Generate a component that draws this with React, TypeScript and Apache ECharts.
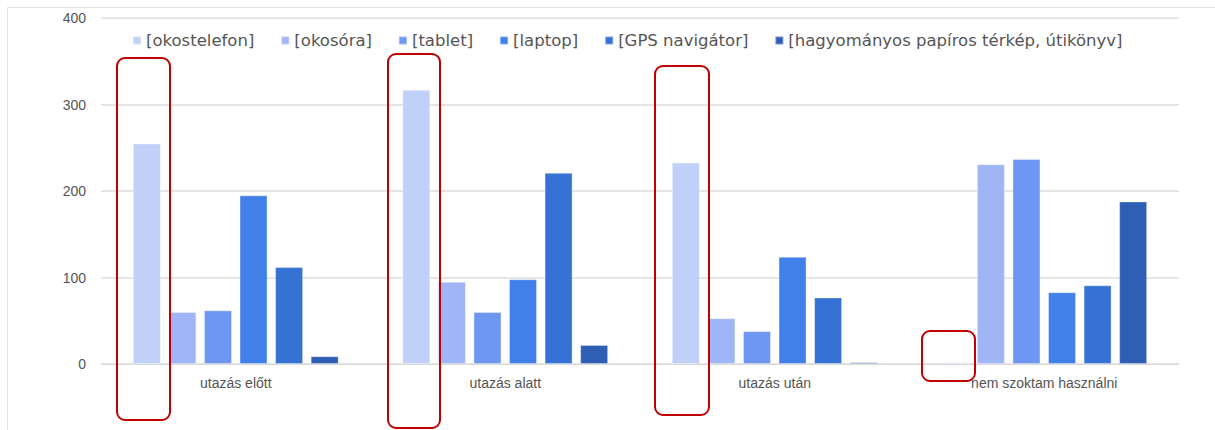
import React, { useEffect, useRef } from "react";
import * as echarts from "echarts";

const categories = ["utazás előtt", "utazás alatt", "utazás után", "nem szoktam használni"];
const seriesNames = [
  "[okostelefon]",
  "[okosóra]",
  "[tablet]",
  "[laptop]",
  "[GPS navigátor]",
  "[hagyományos papíros térkép, útikönyv]",
];
const okostelefon = [255, 317, 233, 2];
const okosora = [60, 95, 53, 231];
const tablet = [62, 60, 38, 237];
const laptop = [195, 98, 124, 83];
const gps = [112, 221, 77, 91];
const hagyomanyos = [9, 22, 2, 188];
const seriesValues = [okostelefon, okosora, tablet, laptop, gps, hagyomanyos];
const colors = ["#c1d0f8", "#9fb5f5", "#6d97f1", "#4080e8", "#3672d3", "#2f5fb5"];
const yTicks = [0, 100, 200, 300, 400];

// annotation frames (pixel boxes in the picture)
const frames = [
  { x: 117, y: 58, w: 53, h: 362 },
  { x: 388, y: 54, w: 52, h: 374 },
  { x: 655, y: 66, w: 54, h: 349 },
  { x: 922, y: 331, w: 53, h: 50 },
];

export default function App() {
  const ref = useRef<HTMLDivElement>(null);
  useEffect(() => {
    document.body.style.margin = "0";
    const chart = echarts.init(ref.current!, undefined, { renderer: "svg" });
    const font = "Liberation Sans, Arial, sans-serif";
    chart.setOption({
      animation: false,
      backgroundColor: "#ffffff",
      color: colors,
      textStyle: { fontFamily: font },
      legend: {
        left: 127,
        top: 27,
        itemWidth: 8,
        itemHeight: 8,
        itemGap: 26,
        icon: "rect",
        textStyle: { fontSize: 16.5, color: "#555555", fontFamily: "DejaVu Sans, sans-serif" },
        data: seriesNames,
      },
      grid: { left: 101, right: 36, top: 18, bottom: 66, containLabel: false },
      xAxis: {
        type: "category",
        data: categories,
        axisLine: { show: true, lineStyle: { color: "#d9d9d9", width: 1 } },
        axisTick: { show: false },
        axisLabel: { color: "#555555", fontSize: 14, margin: 12, fontFamily: font },
      },
      yAxis: {
        type: "value",
        min: yTicks[0],
        max: yTicks[yTicks.length - 1],
        interval: 100,
        axisLine: { show: false },
        axisTick: { show: false },
        splitLine: { lineStyle: { color: "#dddddd", width: 1.5 } },
        axisLabel: { color: "#555555", fontSize: 14, margin: 15, fontFamily: font },
      },
      series: seriesNames.map((name, i) => ({
        name,
        type: "bar",
        data: seriesValues[i],
        barWidth: 28,
        barGap: "27%",
        barCategoryGap: "21%",
        itemStyle: { color: colors[i], borderColor: "rgba(255,255,255,0.35)", borderWidth: 1 },
      })),
      graphic: [
        {
          type: "line",
          shape: { x1: 7.5, y1: 7.5, x2: 1215, y2: 7.5 },
          style: { stroke: "#e3e3e3", lineWidth: 1 },
          silent: true,
        },
        {
          type: "line",
          shape: { x1: 7.5, y1: 7.5, x2: 7.5, y2: 430 },
          style: { stroke: "#e3e3e3", lineWidth: 1 },
          silent: true,
        },
        ...frames.map((f) => ({
          type: "rect",
          shape: { x: f.x, y: f.y, width: f.w, height: f.h, r: 8 },
          style: { fill: "none", stroke: "#c00000", lineWidth: 2 },
          z: 100,
          silent: true,
        })),
      ],
    });
    return () => chart.dispose();
  }, []);
  return <div ref={ref} style={{ width: 1215, height: 430 }} />;
}
